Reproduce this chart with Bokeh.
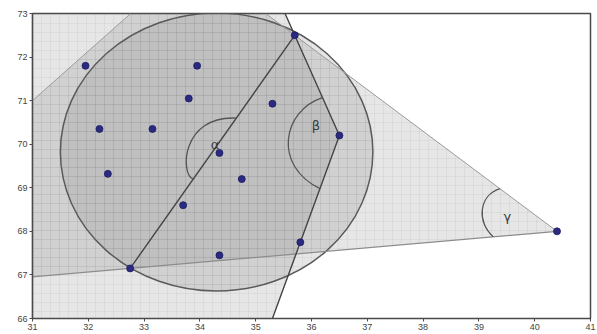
import numpy as np
from bokeh.plotting import figure
from bokeh.models import FixedTicker
from bokeh.core.properties import value
from bokeh.embed import file_html
from bokeh.resources import INLINE

# ---- data ----
pt_x = [31.95, 33.95, 33.80, 35.70, 32.20, 33.15, 35.30, 36.50, 34.35, 32.35, 34.75, 33.70, 35.80, 32.75, 34.35, 40.40]
pt_y = [71.80, 71.80, 71.05, 72.50, 70.35, 70.35, 70.93, 70.20, 69.80, 69.32, 69.20, 68.60, 67.75, 67.15, 67.45, 68.00]

# circle (ellipse in data units)
circle_cx, circle_cy = 34.30, 69.82
circle_w, circle_h = 5.60, 6.38

# corner of the light triangle region (top-left cut)
cut_left_y = 71.0
cut_top_x = 32.76

x_ticks = list(range(31, 42))
y_ticks = list(range(66, 74))
X0, X1, Y0, Y1 = 31, 41, 66, 73

angle_labels = ["α", "β", "γ"]
label_x = [34.27, 36.08, 39.51]
label_y = [70.00, 70.43, 68.33]

# ---- geometry helpers ----
P = list(zip(pt_x, pt_y))
apex = P[15]
top_pt = P[3]
beta_v = P[7]
beta_low = P[12]
low_left = P[13]


def x_at_y(p, q, y):
    return p[0] + (q[0] - p[0]) * (y - p[1]) / (q[1] - p[1])


def y_at_x(p, q, x):
    return p[1] + (q[1] - p[1]) * (x - p[0]) / (q[0] - p[0])


l1_top = x_at_y(beta_v, top_pt, Y1)
l2_bot = x_at_y(beta_v, beta_low, Y0)
p1_x = [X0, X0, l1_top, beta_v[0], l2_bot]
p1_y = [Y0, Y1, Y1, beta_v[1], Y0]

la_left = y_at_x(apex, low_left, X0)
lb_top = x_at_y(apex, top_pt, Y1)
r1_x = [apex[0], X0, X0, cut_top_x, lb_top]
r1_y = [apex[1], la_left, cut_left_y, Y1, Y1]

p = figure(width=597, height=334, x_range=(X0, X1), y_range=(Y0, Y1),
           output_backend="svg", toolbar_location=None,
           min_border_left=32, min_border_right=7, min_border_top=13, min_border_bottom=16)
p.background_fill_color = "white"
p.border_fill_color = "white"
p.xgrid.grid_line_color = None
p.ygrid.grid_line_color = None
p.outline_line_color = "#4a4a4a"
p.outline_line_width = 1.5

fill_kw = dict(fill_color="#7a7a7a", fill_alpha=0.19,
               hatch_pattern="+", hatch_scale=9, hatch_color="#8a8a8a",
               hatch_alpha=0.22, hatch_weight=0.5)

p.patch(p1_x, p1_y, line_color=None, **fill_kw)
p.patch(r1_x, r1_y, line_color=None, **fill_kw)
p.ellipse(x=[circle_cx], y=[circle_cy], width=[circle_w], height=[circle_h],
          line_color="#5a5a5a", line_width=1.5, **fill_kw)

# light triangle edges
p.line([apex[0], X0], [apex[1], la_left], line_color="#8c8c8c", line_width=1.2)
p.line([apex[0], lb_top], [apex[1], Y1], line_color="#9a9a9a", line_width=1.0)
p.line([X0, cut_top_x], [cut_left_y, Y1], line_color="#9a9a9a", line_width=1.0)

# dark chords
p.line([l1_top, beta_v[0], l2_bot], [Y1, beta_v[1], Y0], line_color="#444444", line_width=1.4)
p.line([low_left[0], top_pt[0]], [low_left[1], top_pt[1]], line_color="#444444", line_width=1.4)

# angle arcs
a0y, a3y = 70.6, 69.2
b0y, b3y = 71.07, 68.98
g0y, g3x = 68.98, 39.26
arc_x0 = [x_at_y(low_left, top_pt, a0y), x_at_y(beta_v, top_pt, b0y), x_at_y(apex, top_pt, g0y)]
arc_y0 = [a0y, b0y, g0y]
arc_x1 = [x_at_y(low_left, top_pt, a3y), x_at_y(beta_v, beta_low, b3y), g3x]
arc_y1 = [a3y, b3y, y_at_x(apex, low_left, g3x)]
arc_cx0 = [33.65, 35.48, 38.99]
arc_cy0 = [70.66, 70.77, 68.82]
arc_cx1 = [33.65, 35.30, 38.96]
arc_cy1 = [69.28, 69.51, 68.20]
p.bezier(x0=arc_x0, y0=arc_y0, x1=arc_x1, y1=arc_y1,
         cx0=arc_cx0, cy0=arc_cy0, cx1=arc_cx1, cy1=arc_cy1,
         line_color="#555555", line_width=1.3)

p.scatter(pt_x, pt_y, size=7, marker="circle", fill_color="#2a2a80", line_color="#1c1c60", line_width=0.8)

p.text(x=label_x, y=label_y, text=angle_labels, text_font=value("DejaVu Sans"),
       text_font_size="13px", text_color="#3a3a3a", text_align="center", text_baseline="middle")

for ax in (p.xaxis[0], p.yaxis[0]):
    ax.axis_line_color = "#4a4a4a"
    ax.axis_line_width = 1.2
    ax.major_tick_line_color = "#4a4a4a"
    ax.major_tick_in = 0
    ax.major_tick_out = 3
    ax.minor_tick_line_color = None
    ax.major_label_text_font = "Liberation Sans"
    ax.major_label_text_font_size = "9px"
    ax.major_label_text_color = "#444444"
    ax.major_label_standoff = 2

p.xaxis.ticker = FixedTicker(ticks=x_ticks)
p.yaxis.ticker = FixedTicker(ticks=y_ticks)

open("out.html", "w").write(file_html(p, INLINE))
